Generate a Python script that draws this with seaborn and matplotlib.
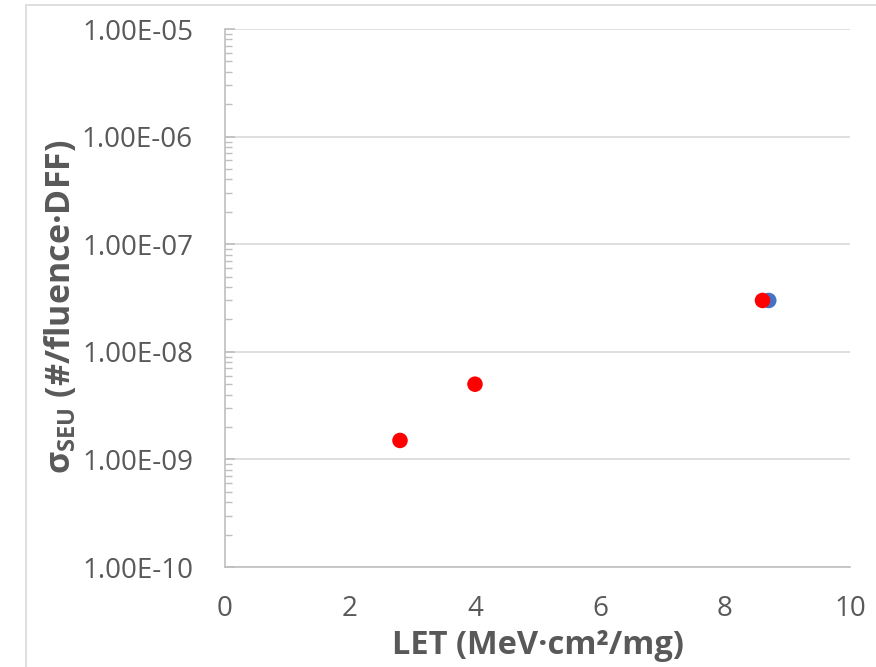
import matplotlib
matplotlib.use("Agg")
import matplotlib.pyplot as plt
from matplotlib.lines import Line2D
from matplotlib.ticker import LogLocator, FixedLocator, FuncFormatter
import seaborn as sns
import pandas as pd

# ---- data ----
let_values = [8.7, 2.8, 4.0, 8.6]
sigma_values = [3.0e-8, 1.5e-9, 5.0e-9, 3.0e-8]
series = ["Series1", "Series2", "Series2", "Series2"]
series_colors = {"Series1": "#4472C4", "Series2": "#FF0000"}
x_ticks = [0, 2, 4, 6, 8, 10]
y_ticks = [1e-10, 1e-9, 1e-8, 1e-7, 1e-6, 1e-5]

df = pd.DataFrame({"LET": let_values, "sigma": sigma_values, "series": series})

sns.set_theme(style="white")
plt.rcParams["font.family"] = ["Open Sans", "DejaVu Sans"]
plt.rcParams["mathtext.fontset"] = "custom"
plt.rcParams["mathtext.rm"] = "Open Sans"
plt.rcParams["mathtext.bf"] = "Open Sans:bold"

fig = plt.figure(figsize=(8.76, 6.67), dpi=100)
ax = fig.add_axes([225 / 876, 1 - 567 / 667, (850 - 225) / 876, (567 - 29) / 667])

sns.scatterplot(data=df, x="LET", y="sigma", hue="series", palette=series_colors,
                s=125, linewidth=0, legend=False, ax=ax, zorder=3)

ax.set_yscale("log")
ax.set_xlim(0, 10)
ax.set_ylim(1e-10, 1e-5)

gray_txt = "#595959"
ax.xaxis.set_major_locator(FixedLocator(x_ticks))
ax.yaxis.set_major_locator(FixedLocator(y_ticks))
ax.yaxis.set_minor_locator(LogLocator(base=10, subs=range(2, 10), numticks=20))
ax.yaxis.set_major_formatter(FuncFormatter(lambda v, p: f"{v:.2E}"))
ax.yaxis.set_minor_formatter(FuncFormatter(lambda v, p: ""))

ax.grid(axis="y", which="major", color="#D9D9D9", linewidth=1.2)
ax.grid(axis="x", visible=False)
for s in ["top", "right"]:
    ax.spines[s].set_visible(False)
for s in ["left", "bottom"]:
    ax.spines[s].set_color("#BFBFBF")
    ax.spines[s].set_linewidth(1.2)

ax.tick_params(axis="y", which="major", direction="in", length=7, width=1.2,
               color="#BFBFBF", labelsize=20, labelcolor=gray_txt, pad=23, left=True)
ax.tick_params(axis="y", which="minor", direction="in", length=5, width=1.0,
               color="#BFBFBF", left=True)
ax.tick_params(axis="x", which="both", length=0, labelsize=20, labelcolor=gray_txt, pad=20)

ax.set_xlabel("LET (MeV·cm²/mg)", fontsize=23.5, fontweight="bold", color=gray_txt)
ax.set_ylabel(r"σ$_{\mathbf{SEU}}$ (#/fluence·DFF)", fontsize=24.5, fontweight="bold",
              color=gray_txt)
ax.xaxis.set_label_coords(0.5, -0.145)
ax.yaxis.set_label_coords(-0.264, 0.484)
ax.xaxis.label.set_verticalalignment("center")
ax.yaxis.label.set_verticalalignment("center")

# chart-area frame (Excel-style), partially visible
fig.add_artist(Line2D([26 / 876, 1.0], [1 - 5 / 667, 1 - 5 / 667], color="#D9D9D9", lw=1.2))
fig.add_artist(Line2D([26 / 876, 26 / 876], [0.0, 1 - 5 / 667], color="#D9D9D9", lw=1.2))

fig.savefig("out.png", dpi=100)
